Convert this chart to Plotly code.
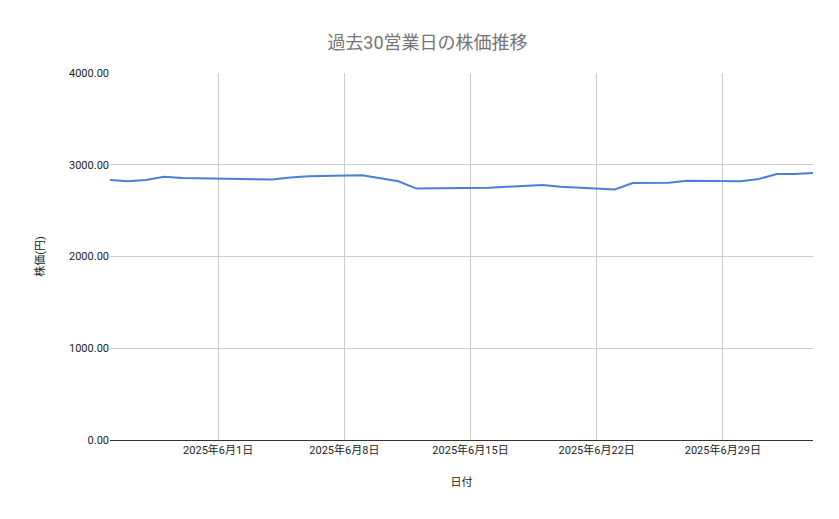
import plotly.graph_objects as go

dates = ['2025-05-26', '2025-05-27', '2025-05-28', '2025-05-29', '2025-05-30',
         '2025-06-02', '2025-06-03', '2025-06-04', '2025-06-05', '2025-06-06',
         '2025-06-09', '2025-06-10', '2025-06-11', '2025-06-12', '2025-06-13',
         '2025-06-16', '2025-06-17', '2025-06-18', '2025-06-19', '2025-06-20',
         '2025-06-23', '2025-06-24', '2025-06-25', '2025-06-26', '2025-06-27',
         '2025-06-30', '2025-07-01', '2025-07-02', '2025-07-03', '2025-07-04']
prices = [2835, 2820, 2835, 2870, 2855,
          2845, 2845, 2840, 2860, 2875,
          2885, 2855, 2820, 2740, 2742,
          2750, 2760, 2770, 2780, 2760,
          2730, 2800, 2800, 2805, 2825,
          2820, 2845, 2900, 2900, 2910]

fig = go.Figure(go.Scatter(x=dates, y=prices, mode='lines',
                           line=dict(color='#4a7fd6', width=2)))

fig.update_layout(
    width=839, height=519,
    paper_bgcolor='white', plot_bgcolor='white',
    font=dict(family='Roboto, Noto Sans CJK JP', color='#222', size=11),
    title=dict(text='過去30営業日の株価推移', x=0.5, xanchor='center', y=0.945,
               font=dict(size=18, color='#757575')),
    margin=dict(l=102, r=34, t=65, b=87),
    showlegend=False,
    xaxis=dict(title=dict(text='日付', font=dict(size=11), standoff=22),
               range=['2025-05-26', '2025-07-04'],
               tickvals=['2025-06-01', '2025-06-08', '2025-06-15', '2025-06-22', '2025-06-29'],
               tickformat='%Y年%-m月%-d日',
               showgrid=True, gridcolor='#cccccc', showline=True, linecolor='#333',
               ticks=''),
    yaxis=dict(title=dict(text='株価(円)', font=dict(size=11), standoff=22),
               range=[0, 4000], dtick=1000, tickformat='.2f',
               showgrid=True, gridcolor='#cccccc', zeroline=False, ticks=''),
)

fig.write_html('out.html')
